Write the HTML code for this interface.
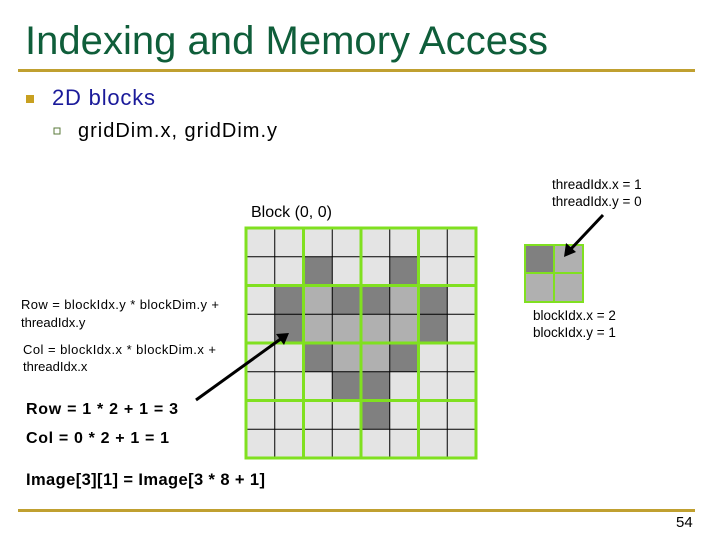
<!DOCTYPE html>
<html><head><meta charset="utf-8"><style>
html,body{margin:0;padding:0;background:#fff;}
svg{display:block;font-family:"Liberation Sans",Arial,sans-serif;}
</style></head><body>
<svg width="720" height="540" viewBox="0 0 720 540" xmlns="http://www.w3.org/2000/svg">
<text x="25" y="54" font-size="40" fill="#0f5e3a" textLength="523">Indexing and Memory Access</text>
<rect x="18" y="69" width="677" height="3" fill="#c0a030"/>
<rect x="26" y="95" width="8" height="8" fill="#c8a020"/>
<text x="52" y="105" font-size="22" fill="#1a1a9a" textLength="103">2D blocks</text>
<rect x="54" y="128" width="6" height="6" fill="#fff" stroke="#5a7a3a" stroke-width="1"/>
<text x="78" y="137" font-size="20" fill="#000" textLength="199">gridDim.x, gridDim.y</text>

<text x="251" y="217" font-size="16" fill="#000">Block (0, 0)</text>
<text x="552" y="189" font-size="13.5" fill="#000">threadIdx.x = 1</text>
<text x="552" y="206" font-size="13.5" fill="#000">threadIdx.y = 0</text>
<text x="533" y="320" font-size="13.5" fill="#000">blockIdx.x = 2</text>
<text x="533" y="337" font-size="13.5" fill="#000">blockIdx.y = 1</text>

<text x="21" y="309" font-size="13" fill="#000" textLength="198">Row = blockIdx.y * blockDim.y +</text>
<text x="21" y="327" font-size="13" fill="#000">threadIdx.y</text>
<text x="23" y="354" font-size="13" fill="#000" textLength="193">Col = blockIdx.x * blockDim.x +</text>
<text x="23" y="371" font-size="13" fill="#000">threadIdx.x</text>
<text x="26" y="414" font-size="16" font-weight="bold" fill="#000" textLength="152">Row = 1 * 2 + 1 = 3</text>
<text x="26" y="443" font-size="16" font-weight="bold" fill="#000" textLength="143">Col = 0 * 2 + 1 = 1</text>
<text x="26" y="485" font-size="16.5" font-weight="bold" fill="#000" textLength="239">Image[3][1] = Image[3 * 8 + 1]</text>

<rect x="18" y="509" width="677" height="3" fill="#c0a030"/>
<text x="676" y="527" font-size="15" fill="#000">54</text>

<!-- grid -->
<rect x="246" y="228" width="230" height="230" fill="#e4e4e4"/>
<g fill="#808080">
<rect x="303.5" y="256.75" width="28.75" height="28.75"/>
<rect x="389.75" y="256.75" width="28.75" height="28.75"/>
<rect x="274.75" y="285.5" width="28.75" height="28.75"/>
<rect x="332.25" y="285.5" width="28.75" height="28.75"/>
<rect x="361" y="285.5" width="28.75" height="28.75"/>
<rect x="418.5" y="285.5" width="28.75" height="28.75"/>
<rect x="274.75" y="314.25" width="28.75" height="28.75"/>
<rect x="418.5" y="314.25" width="28.75" height="28.75"/>
<rect x="303.5" y="343" width="28.75" height="28.75"/>
<rect x="389.75" y="343" width="28.75" height="28.75"/>
<rect x="332.25" y="371.75" width="28.75" height="28.75"/>
<rect x="361" y="371.75" width="28.75" height="28.75"/>
<rect x="361" y="400.5" width="28.75" height="28.75"/>
</g>
<g fill="#b0b0b0">
<rect x="303.5" y="285.5" width="28.75" height="28.75"/>
<rect x="389.75" y="285.5" width="28.75" height="28.75"/>
<rect x="303.5" y="314.25" width="28.75" height="28.75"/>
<rect x="332.25" y="314.25" width="28.75" height="28.75"/>
<rect x="361" y="314.25" width="28.75" height="28.75"/>
<rect x="389.75" y="314.25" width="28.75" height="28.75"/>
<rect x="332.25" y="343" width="28.75" height="28.75"/>
<rect x="361" y="343" width="28.75" height="28.75"/>
</g>
<g stroke="#000" stroke-width="1">
<line x1="274.75" y1="228" x2="274.75" y2="458"/>
<line x1="332.25" y1="228" x2="332.25" y2="458"/>
<line x1="389.75" y1="228" x2="389.75" y2="458"/>
<line x1="447.25" y1="228" x2="447.25" y2="458"/>
<line x1="246" y1="256.75" x2="476" y2="256.75"/>
<line x1="246" y1="314.25" x2="476" y2="314.25"/>
<line x1="246" y1="371.75" x2="476" y2="371.75"/>
<line x1="246" y1="429.25" x2="476" y2="429.25"/>
</g>
<g stroke="#80e020" stroke-width="3" fill="none">
<rect x="246" y="228" width="230" height="230"/>
<line x1="303.5" y1="228" x2="303.5" y2="458"/>
<line x1="361" y1="228" x2="361" y2="458"/>
<line x1="418.5" y1="228" x2="418.5" y2="458"/>
<line x1="246" y1="285.5" x2="476" y2="285.5"/>
<line x1="246" y1="343" x2="476" y2="343"/>
<line x1="246" y1="400.5" x2="476" y2="400.5"/>
</g>

<!-- small block -->
<rect x="525" y="245" width="29" height="28" fill="#808080"/>
<rect x="554" y="245" width="29" height="28" fill="#b0b0b0"/>
<rect x="525" y="273" width="29" height="29" fill="#b0b0b0"/>
<rect x="554" y="273" width="29" height="29" fill="#b0b0b0"/>
<g stroke="#80e020" stroke-width="2" fill="none">
<rect x="525" y="245" width="58" height="57"/>
<line x1="554" y1="245" x2="554" y2="302"/>
<line x1="525" y1="273" x2="583" y2="273"/>
</g>

<!-- arrows -->
<g stroke="#000" stroke-width="3">
<line x1="603" y1="215" x2="570" y2="250"/>
<line x1="196" y1="400" x2="282" y2="338"/>
</g>
<polygon points="564,257 566,243 576,252" fill="#000"/>
<polygon points="289,333 276,334 284,345" fill="#000"/>
</svg>
</body></html>
